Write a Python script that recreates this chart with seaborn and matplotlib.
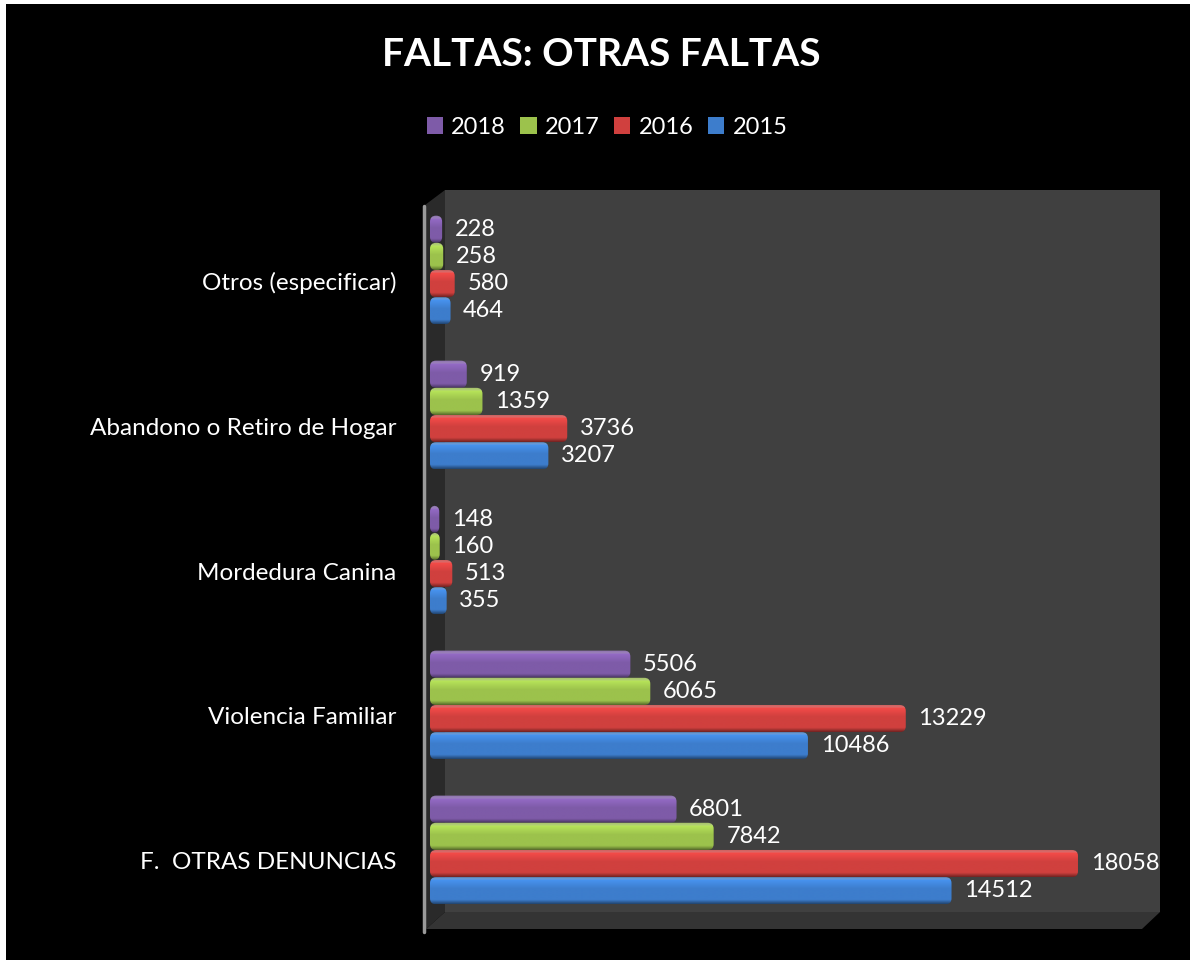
import numpy as np
import pandas as pd
import matplotlib
matplotlib.use("Agg")
import matplotlib.pyplot as plt
import seaborn as sns
from matplotlib.patches import Polygon, FancyBboxPatch, Patch
from matplotlib.colors import to_rgb
import matplotlib.transforms as mtransforms

# ---------------- data ----------------
categories = ["Otros (especificar)", "Abandono o Retiro de Hogar", "Mordedura Canina",
              "Violencia Familiar", "F.  OTRAS DENUNCIAS"]
years = ["2018", "2017", "2016", "2015"]
v2018 = [228, 919, 148, 5506, 6801]
v2017 = [258, 1359, 160, 6065, 7842]
v2016 = [580, 3736, 513, 13229, 18058]
v2015 = [464, 3207, 355, 10486, 14512]
title = "FALTAS: OTRAS FALTAS"

colors = {"2018": "#7E5BA8", "2017": "#9CC24C", "2016": "#D0403E", "2015": "#3D7DCC"}

rows = []
for yr, vals in zip(years, [v2018, v2017, v2016, v2015]):
    for c, v in zip(categories, vals):
        rows.append({"Categoria": c, "Anio": yr, "Valor": v})
df = pd.DataFrame(rows)

sns.set_theme(style="dark")
plt.rcParams["font.family"] = ["Lato", "DejaVu Sans"]

W, H = 1190, 961
fig = plt.figure(figsize=(W / 100, H / 100), dpi=100, facecolor="white")


def fx(x):
    return x / W


def fy(y):
    return 1 - y / H


def fpoly(pts, **kw):
    p = Polygon([(fx(a), fy(b)) for a, b in pts], closed=True,
                transform=fig.transFigure, **kw)
    fig.add_artist(p)
    return p


# black page background (thin white margin left/top)
fpoly([(6, 4), (1190, 4), (1190, 960), (6, 960)], facecolor="black",
      edgecolor="none", zorder=-10)
# 3D-like chart walls
fpoly([(445, 190), (1160, 190), (1160, 912), (445, 912)], facecolor="#404040",
      edgecolor="none", zorder=-5)
fpoly([(425, 205), (445, 190), (445, 912), (425, 930)], facecolor="#2a2a2a",
      edgecolor="none", zorder=-5)
fpoly([(425, 930), (445, 912), (1160, 912), (1142, 929), (425, 929)],
      facecolor="#343434", edgecolor="none", zorder=-5)
fig.add_artist(plt.Line2D([fx(424), fx(424)], [fy(206), fy(932)],
                          transform=fig.transFigure, color="#9a9a9a",
                          lw=2.5, zorder=-4))

ax = fig.add_axes([fx(430), fy(930), fx(1160) - fx(430), (930 - 190) / H])
ax.set_facecolor("none")

sns.barplot(data=df, y="Categoria", x="Valor", hue="Anio", order=categories,
            hue_order=years, palette=colors, orient="h", width=0.75,
            saturation=1, ax=ax, edgecolor="none")

if ax.get_legend() is not None:
    ax.get_legend().remove()

XMAX = 20470
ax.set_xlim(0, XMAX)
ax.set_ylim(4.552, -0.552)

# gradient shading + rounded end caps on bars (pseudo 3D)
CAP = 4  # px extension for the rounded end
for patch in list(ax.patches):
    x0, y0 = patch.get_x(), patch.get_y()
    w, h = patch.get_width(), patch.get_height()
    base = np.array(to_rgb(patch.get_facecolor()))
    n = 64
    t = np.linspace(0, 1, n)
    grad = np.zeros((n, 1, 3))
    for i, tt in enumerate(t):
        if tt < 0.12:
            c = base * 0.75 + 0.25 * (0.7 + 0.3 * tt / 0.12)
        elif tt < 0.45:
            f = (tt - 0.12) / 0.33
            c = base * (1.0 + 0.18 * (1 - f))
        elif tt < 0.85:
            c = base
        else:
            f = (tt - 0.85) / 0.15
            c = base * (1 - 0.45 * f)
        grad[i, 0, :] = np.clip(c, 0, 1)
    (dx0, dy0), (dx1, dy1) = ax.transData.transform([(x0, y0 + h), (x0 + w, y0)])
    clip = FancyBboxPatch((dx0, dy0), (dx1 - dx0) + CAP, dy1 - dy0,
                          boxstyle="round,pad=0,rounding_size=6",
                          transform=mtransforms.IdentityTransform())
    extra = ax.transData.inverted().transform([(dx1 + CAP + 2, dy0)])[0][0]
    im = ax.imshow(grad, extent=(x0, extra, y0 + h, y0), origin="upper",
                   aspect="auto", zorder=patch.get_zorder() + 0.1,
                   interpolation="bilinear")
    im.set_clip_path(clip)
    patch.set_facecolor("none")

for cont in ax.containers:
    texts = ax.bar_label(cont, padding=12, color="white", fontsize=17, fmt="%d")
    for tx in texts:
        tx.set_transform(tx.get_transform() +
                         mtransforms.ScaledTranslation(0, -5 / 100, fig.dpi_scale_trans))

ax.set_xlim(0, XMAX)
ax.set_ylim(4.552, -0.552)
ax.set_xticks([])
ax.set_xlabel("")
ax.set_ylabel("")
ax.grid(False)
for s in ax.spines.values():
    s.set_visible(False)
ax.tick_params(axis="y", length=0, colors="white", labelsize=17.5, pad=24)
offset = mtransforms.ScaledTranslation(0, -11 / 100, fig.dpi_scale_trans)
for lbl in ax.get_yticklabels():
    lbl.set_transform(lbl.get_transform() + offset)

fig.text(fx(601), fy(55), title, ha="center", va="center", color="white",
         fontsize=28, fontweight="bold")

handles = [Patch(facecolor=colors[y], edgecolor="none") for y in years]
fig.legend(handles, years, loc="center", bbox_to_anchor=(fx(607), fy(127)),
           ncol=4, frameon=False, fontsize=17, labelcolor="white",
           handlelength=0.7, handleheight=0.7, handletextpad=0.35,
           columnspacing=0.6)

fig.savefig("out.png", dpi=100, facecolor=fig.get_facecolor())
